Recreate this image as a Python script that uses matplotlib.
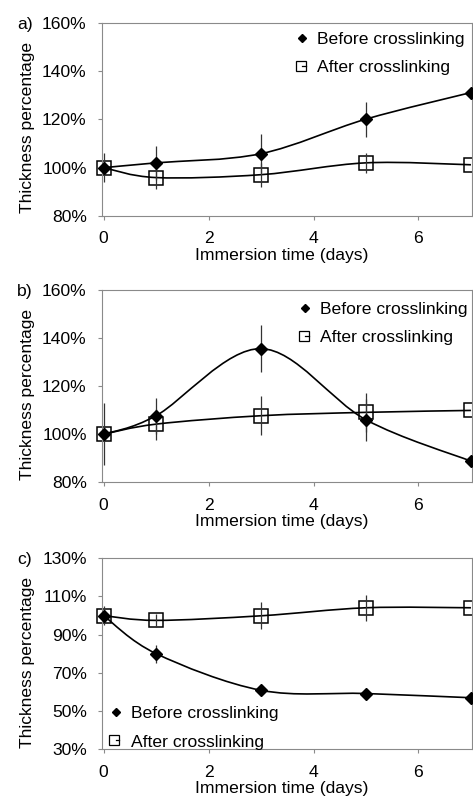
import numpy as np
import matplotlib
matplotlib.use("Agg")
import matplotlib.pyplot as plt
from matplotlib.path import Path
from matplotlib.patches import PathPatch
from matplotlib.lines import Line2D
from matplotlib.legend_handler import HandlerTuple
from matplotlib.ticker import FuncFormatter

plt.rcParams['font.family'] = ['Liberation Sans', 'DejaVu Sans']
plt.rcParams['font.size'] = 12.6

# --- data (thickness %, immersion days) ---
days = [0, 1, 3, 5, 7]

a_before = [100, 102.0, 105.8, 120.1, 131.1]
a_before_err = [6, 6.9, 8, 7.2, 0]
a_after = [100, 95.9, 97.1, 102.0, 101.2]
a_after_err = [3, 4.9, 5, 4.2, 0]

b_before = [100, 107.7, 135.6, 106.0, 88.8]
b_before_err = [13, 7.5, 9.7, 8.7, 0]
b_after = [100, 104.2, 107.7, 109.1, 109.9]
b_after_err = [3, 6.5, 8, 8, 0]

c_before = [100, 80.1, 60.9, 59.2, 57.0]
c_before_err = [5, 4.7, 1.5, 1.5, 0]
c_after = [100, 97.5, 99.9, 104.1, 104.1]
c_after_err = [3, 3.5, 7, 6.7, 0]

panel_labels = ['a)', 'b)', 'c)']
yticks_ab = [80, 100, 120, 140, 160]
yticks_c = [30, 50, 70, 90, 110, 130]
xticks = [0, 2, 4, 6]
legend_labels = ['Before crosslinking', 'After crosslinking']

spine_gray = '#8a8a8a'


def smooth_path(xs, ys):
    # Excel-like smoothed line: cubic Bezier through the points
    pts = np.column_stack([xs, ys]).astype(float)
    n = len(pts)
    verts = [pts[0]]
    codes = [Path.MOVETO]
    for i in range(n - 1):
        p0 = pts[i - 1] if i > 0 else pts[i]
        p1 = pts[i]
        p2 = pts[i + 1]
        p3 = pts[i + 2] if i + 2 < n else pts[i + 1]
        c1 = p1 + (p2 - p0) / 6.0
        c2 = p2 - (p3 - p1) / 6.0
        verts += [c1, c2, p2]
        codes += [Path.CURVE4] * 3
    return Path(verts, codes)


def draw_panel(ax, before, before_err, after, after_err, yticks, label, legend_anchor):
    for ys in (after, before):
        ax.add_patch(PathPatch(smooth_path(days, ys), fill=False,
                               edgecolor='black', lw=1.2, zorder=3))
    ax.plot(days, after, linestyle='none', marker='s', ms=9.5, mfc='white',
            mec='black', mew=1.1, zorder=2, clip_on=False)
    ax.errorbar(days, after, yerr=after_err, fmt='none', ecolor='#333333',
                elinewidth=0.9, capsize=0, zorder=4)
    ax.errorbar(days, before, yerr=before_err, fmt='none', ecolor='#333333',
                elinewidth=0.9, capsize=0, zorder=4)
    ax.plot(days, before, linestyle='none', marker='D', ms=6.5, color='black',
            zorder=5, clip_on=False)

    ax.set_xlim(-0.03, 7.02)
    ax.set_ylim(yticks[0], yticks[-1])
    ax.set_xticks(xticks)
    ax.set_yticks(yticks)
    ax.yaxis.set_major_formatter(FuncFormatter(lambda v, p: f'{v:.0f}%'))
    ax.tick_params(direction='out', length=3, width=0.8, color=spine_gray, pad=8)
    for s in ax.spines.values():
        s.set_color(spine_gray)
        s.set_linewidth(0.8)

    ax.set_xlabel('Immersion time (days)')
    ax.set_ylabel('Thickness percentage')
    ax.xaxis.set_label_coords(0.486, -0.165)
    ax.yaxis.set_label_coords(-0.181, 0.456)

    diamond = Line2D([], [], marker='D', ms=4.3, color='black', linestyle='none')
    square = Line2D([], [], marker='s', ms=6.8, mfc='white', mec='black', mew=0.9,
                    linestyle='none')
    dash = Line2D([], [], color='black', lw=0.9, linestyle='-')
    ax.legend([diamond, (square, dash)], legend_labels, loc='upper left',
              bbox_to_anchor=legend_anchor, frameon=False, handlelength=0.4,
              handletextpad=0.65, borderpad=0, borderaxespad=0, labelspacing=0.74,
              numpoints=1, handler_map={tuple: HandlerTuple(ndivide=None, pad=0)})

    pos = ax.get_position()
    ax.figure.text(17 / 473, pos.y1 - 1.5 / 798, label, ha='left', va='center')


fig = plt.figure(figsize=(4.73, 7.98), dpi=100)
left = 102 / 473
width = 370 / 473
H = 798.0
ax_a = fig.add_axes([left, 1 - 216 / H, width, (216 - 22.7) / H])
ax_b = fig.add_axes([left, 1 - 482.3 / H, width, (482.3 - 290) / H])
ax_c = fig.add_axes([left, 1 - 749.3 / H, width, (749.3 - 558.3) / H])

draw_panel(ax_a, a_before, a_before_err, a_after, a_after_err, yticks_ab,
           panel_labels[0], (0.532, 0.955))
draw_panel(ax_b, b_before, b_before_err, b_after, b_after_err, yticks_ab,
           panel_labels[1], (0.54, 0.94))
draw_panel(ax_c, c_before, c_before_err, c_after, c_after_err, yticks_c,
           panel_labels[2], (0.028, 0.226))

fig.savefig('out.png', dpi=100)
